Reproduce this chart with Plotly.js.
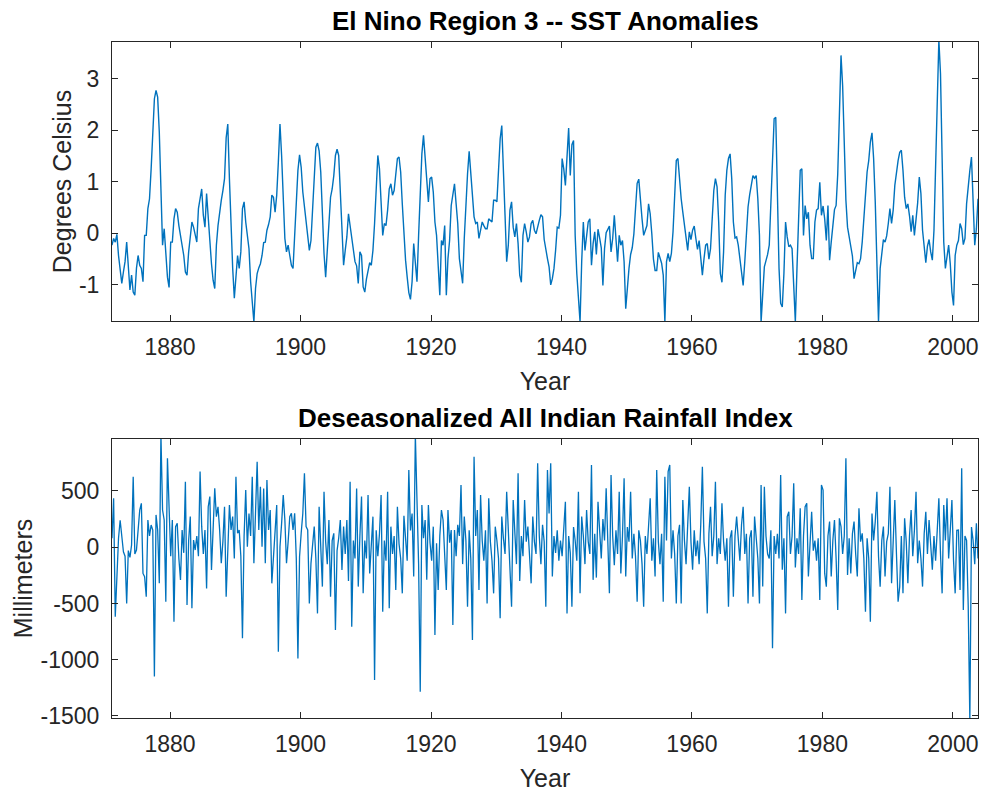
<!DOCTYPE html>
<html>
<head>
<meta charset="utf-8">
<script src="https://cdn.plot.ly/plotly-3.0.1.min.js"></script>
<style>html,body{margin:0;padding:0;background:#fff;}#chart{width:984px;height:793px;}</style>
</head>
<body>
<div id="chart"></div>
<script>
// Time axis: quarterly samples
const startYear = 1871.1;
const stepYears = 0.25;
const xTickYears = [1880, 1900, 1920, 1940, 1960, 1980, 2000];
const sstTicks = [-1, 0, 1, 2, 3];
const rainTicks = [-1500, -1000, -500, 0, 500];

// El Nino Region 3 SST anomalies (degrees Celsius)
const sstValues = [
-0.23,-0.10,-0.17,-0.02,-0.43,-0.68,-0.97,-0.75,-0.55,-0.17,
-0.68,-1.10,-0.81,-1.14,-1.20,-0.68,-0.43,-0.62,-0.68,-0.94,
-0.04,-0.04,0.48,0.67,1.25,2.09,2.61,2.77,2.64,1.96,
0.80,-0.23,0.09,-0.30,-0.85,-1.05,-0.17,-0.17,0.28,0.48,
0.41,0.15,-0.04,-0.20,-0.43,-0.75,-0.81,-0.36,-0.04,0.22,
0.12,-0.04,-0.17,0.48,0.67,0.86,0.35,0.12,0.77,0.38,
-0.14,-0.59,-0.91,-1.07,-0.23,0.15,0.45,0.64,0.83,1.06,
1.85,2.12,1.06,0.09,-0.68,-1.26,-0.81,-0.43,-0.68,-0.36,
0.48,0.61,0.22,-0.01,-0.30,-0.94,-1.43,-1.72,-1.07,-0.78,
-0.67,-0.59,-0.43,-0.18,-0.17,0.06,0.17,0.32,0.74,0.70,
0.41,0.74,1.38,2.12,1.51,0.48,-0.10,-0.36,-0.23,-0.43,
-0.62,-0.68,-0.10,0.67,1.22,1.52,1.28,0.80,0.51,0.22,
-0.10,-0.33,-0.14,0.54,1.25,1.67,1.75,
1.60,1.19,0.22,-0.39,-0.85,-0.36,0.28,0.70,0.86,1.12,
1.51,1.63,1.51,0.86,-0.04,-0.62,-0.33,-0.07,0.38,0.12,
-0.07,-0.31,-0.55,-0.63,-0.97,-0.36,-0.43,-1.04,-1.14,-0.89,
-0.70,-0.57,-0.62,-0.33,0.19,0.99,1.51,1.25,0.54,-0.04,
0.19,0.15,0.45,0.86,0.96,0.74,0.83,1.19,1.45,1.48,
1.19,0.57,-0.04,-0.52,-0.85,-1.15,-1.28,-0.94,-0.20,-0.55,
-0.94,-0.04,0.96,1.54,1.90,1.45,0.86,0.61,1.06,1.09,
0.80,0.22,-0.04,-0.55,-1.20,-0.14,-0.23,0.15,-1.20,-0.49,
-0.14,0.54,0.79,0.96,0.57,0.19,-0.49,-0.78,-0.97,-0.10,
0.67,1.15,1.59,1.12,0.67,0.32,0.19,0.22,-0.10,0.09,
0.22,0.15,0.09,0.09,0.28,0.25,0.22,0.64,0.64,0.61,
1.25,1.83,2.09,1.38,0.35,-0.55,-0.23,0.45,0.61,0.12,
-0.07,0.19,-0.20,-0.81,-0.95,-0.04,0.19,0.03,-0.17,-0.07,
0.19,0.25,0.06,-0.01,0.15,0.25,0.36,0.32,-0.12,-0.33,
-0.49,-0.65,
-1.00,-0.88,-0.68,-0.33,0.12,0.10,0.35,1.45,1.25,0.93,
1.64,2.04,1.12,1.72,1.80,-0.04,-0.78,-1.33,-1.72,-0.55,
0.22,-0.33,-0.03,0.22,0.28,-0.62,-0.20,0.03,-0.41,0.08,
-0.09,-0.28,-1.01,-0.30,0.01,0.08,0.14,-0.36,-0.10,0.35,
-0.04,-0.55,-0.04,-0.23,-0.14,-0.55,-1.46,-1.01,-0.68,-0.41,
-0.28,-0.01,0.61,0.97,1.05,0.61,0.28,-0.04,0.08,0.15,
0.57,0.38,-0.01,-0.50,-0.72,-0.72,-0.37,-0.46,-0.58,-0.81,
-1.72,-0.55,-0.39,-0.55,-0.39,0.03,0.80,1.41,1.45,0.99,
0.67,0.41,0.19,-0.03,-0.33,0.03,-0.12,0.06,0.14,-0.10,
-0.31,-0.14,-0.55,-0.81,-0.49,-0.23,-0.20,-0.50,-0.30,0.35,
0.83,1.06,0.90,0.22,-0.78,-0.95,-0.36,0.74,1.22,1.45,
1.54,1.06,0.22,-0.09,-0.07,-0.23,-0.52,-0.76,-1.01,-0.55,
0.03,0.51,0.75,0.99,1.12,1.07,1.12,0.67,-0.04,-1.72,
-1.07,-0.65,-0.53,-0.41,
-0.23,0.67,1.70,2.22,2.25,0.93,-0.68,-1.36,-1.43,-0.78,
0.22,-0.07,-0.26,-0.23,-0.30,-1.01,-1.72,-0.68,0.54,1.22,
1.25,-0.04,0.54,0.28,0.41,-0.23,-0.49,-0.49,0.22,0.45,
0.48,0.99,0.35,0.53,0.28,-0.14,0.54,-0.52,-0.17,0.09,
0.46,0.54,1.15,2.28,3.45,2.86,1.70,0.64,0.12,-0.07,
-0.25,-0.44,-0.88,-0.72,-0.57,-0.59,-0.49,-0.17,0.28,0.86,
1.19,1.41,1.77,1.95,1.45,0.61,-0.68,-1.72,-0.68,-0.39,
-0.12,-0.17,-0.05,0.19,0.48,0.19,0.45,0.93,1.22,1.41,
1.57,1.61,1.22,0.70,0.48,0.57,0.34,0.03,0.35,-0.04,
0.27,0.59,1.09,0.77,0.06,-0.28,-0.57,-0.25,-0.12,-0.36,
-0.52,0.06,1.45,2.86,3.75,3.10,1.67,-0.17,-0.68,-0.43,
-0.23,-0.59,-1.14,-1.40,-0.43,-0.23,-0.14,0.19,0.09,-0.22,
-0.10,0.57,0.93,1.22,1.48,0.61,-0.23,0.09,0.67
];

// Deseasonalized All Indian Rainfall Index (millimeters)
const rainValues = [
80,435,-617,-300,80,240,60,-40,-80,-500,
-30,-90,20,627,-60,-25,150,330,390,-233,
-262,-440,242,100,197,153,-1150,287,153,-321,
1000,331,242,-484,790,301,-80,242,-662,183,
212,-100,-291,153,-50,582,-513,60,272,-543,
64,-25,100,-80,672,183,-60,153,-366,360,
450,-202,100,523,272,360,153,-143,50,360,
-440,5,375,153,272,-100,627,125,153,-80,
-810,100,508,5,300,100,627,-143,272,760,
153,538,5,523,-143,597,153,331,-321,-84,
100,375,-928,5,212,464,242,-143,50,272,
301,153,301,-100,-990,-84,124,300,657,183,
153,-500,-143,60,183,-100,-588,
360,-50,-350,494,50,-150,242,-440,60,124,
-736,-30,80,242,-202,183,-60,242,-300,582,
-706,60,-100,523,-350,100,450,-410,60,-100,
464,-233,50,272,-1180,150,-80,120,464,-573,
60,-120,494,-543,183,-60,100,-380,360,30,
-100,-410,280,60,-120,687,150,300,-260,1000,
464,-150,-1284,375,80,242,-290,375,40,-120,
183,-780,35,-380,100,331,242,-60,-380,331,
40,153,-692,153,-80,200,100,553,-150,272,
60,-529,150,-100,-825,805,100,331,-380,464,
60,-120,150,-500,435,50,-120,-410,183,60,
-100,-632,272,80,-60,494,120,-120,-529,420,
60,-150,657,-300,100,-80,420,50,183,-100,
-321,272,50,-60,746,100,-150,200,50,-529,
687,300,
746,-260,100,-50,150,-120,60,-80,150,405,
-588,100,-50,-529,180,60,-120,494,-410,272,
100,-150,331,50,-60,731,-290,120,-270,405,
150,-100,250,60,523,-80,-410,642,100,-160,
150,-60,494,-233,100,612,-260,180,50,494,
-100,120,-80,-484,150,60,-150,-529,100,-60,
200,435,-120,80,-260,687,50,-150,120,-484,
627,60,672,731,-100,150,-60,-500,100,200,
-500,420,60,-150,200,538,50,-200,150,-80,
60,-150,200,716,50,-100,-588,120,360,-80,
100,582,-150,80,-60,390,50,-120,80,-529,
80,150,-440,100,272,50,-120,200,360,-60,
120,-500,80,150,-440,272,60,-100,-500,553,
-350,538,100,-60,
-100,150,-898,100,-60,120,-100,642,-200,80,
-588,272,316,-60,100,568,-180,80,-60,346,
-469,100,360,390,-260,100,316,-30,60,-120,
80,-469,553,508,-233,-350,100,228,-260,60,
242,-100,-558,257,183,-60,100,790,-246,80,
-233,120,228,-60,-260,346,50,124,-100,-573,
80,-100,-662,300,60,228,494,-80,-350,60,
183,-260,50,120,538,-320,80,420,-60,-484,
-350,100,-410,257,50,-320,100,331,-80,150,
494,-143,60,-100,-350,120,316,-60,242,60,
-200,100,-120,150,435,-60,-410,375,60,435,
-100,150,420,-120,-410,150,153,-380,701,-558,
100,60,-520,-1540,180,60,-150,212,-100
];

const sstYears = sstValues.map((_, i) => startYear + i * stepYears);
const rainYears = rainValues.map((_, i) => startYear + i * stepYears);

const lineColor = '#0072BD';
const axisColor = '#262626';
const fontFamily = '"Liberation Sans", Arial, Helvetica, sans-serif';

const traces = [
  {x: sstYears, y: sstValues, type: 'scatter', mode: 'lines', xaxis: 'x', yaxis: 'y',
   line: {color: lineColor, width: 1.4}, hoverinfo: 'x+y'},
  {x: rainYears, y: rainValues, type: 'scatter', mode: 'lines', xaxis: 'x2', yaxis: 'y2',
   line: {color: lineColor, width: 1.3}, hoverinfo: 'x+y'}
];

function xAxis(anchor) {
  return {
    anchor: anchor, domain: [0, 1], range: [1871.1, 2003.85],
    tickmode: 'array', tickvals: xTickYears, ticktext: xTickYears.map(String),
    ticks: 'inside', ticklen: 6, tickwidth: 1, tickcolor: axisColor,
    showline: true, linecolor: axisColor, linewidth: 1, mirror: 'ticks',
    showgrid: false, zeroline: false,
    tickfont: {family: fontFamily, size: 23, color: axisColor},
    ticklabelstandoff: 5,
    title: {text: 'Year', font: {family: fontFamily, size: 25, color: axisColor}, standoff: 13},
    automargin: false
  };
}
function yAxis(anchor, domain, range, ticks, label) {
  return {
    anchor: anchor, domain: domain, range: range,
    tickmode: 'array', tickvals: ticks, ticktext: ticks.map(String),
    ticks: 'inside', ticklen: 6, tickwidth: 1, tickcolor: axisColor,
    showline: true, linecolor: axisColor, linewidth: 1, mirror: 'ticks',
    showgrid: false, zeroline: false,
    tickfont: {family: fontFamily, size: 23, color: axisColor},
    ticklabelstandoff: 7,
    title: {text: label, font: {family: fontFamily, size: 25, color: axisColor}, standoff: 0},
    automargin: false
  };
}

const layout = {
  width: 984, height: 793,
  margin: {l: 112, r: 6, t: 42, b: 75, pad: 0},
  paper_bgcolor: '#ffffff', plot_bgcolor: '#ffffff',
  showlegend: false,
  font: {family: fontFamily, color: axisColor},
  xaxis: xAxis('y'),
  yaxis: yAxis('x', [0.5873, 1], [-1.70, 3.71], sstTicks, 'Degrees Celsius'),
  xaxis2: xAxis('y2'),
  yaxis2: yAxis('x2', [0, 0.4127], [-1518, 962], rainTicks, 'Millimeters'),
  annotations: [
    {text: '<b>El Nino Region 3 -- SST Anomalies</b>', xref: 'x domain', yref: 'y domain',
     x: 0.5, y: 1, yshift: 4, xanchor: 'center', yanchor: 'bottom', showarrow: false,
     font: {family: fontFamily, size: 26, color: '#000000'}},
    {text: '<b>Deseasonalized All Indian Rainfall Index</b>', xref: 'x2 domain', yref: 'y2 domain',
     x: 0.5, y: 1, yshift: 4, xanchor: 'center', yanchor: 'bottom', showarrow: false,
     font: {family: fontFamily, size: 26, color: '#000000'}}
  ]
};

Plotly.newPlot('chart', traces, layout, {displayModeBar: false, staticPlot: true});
</script>
</body>
</html>
